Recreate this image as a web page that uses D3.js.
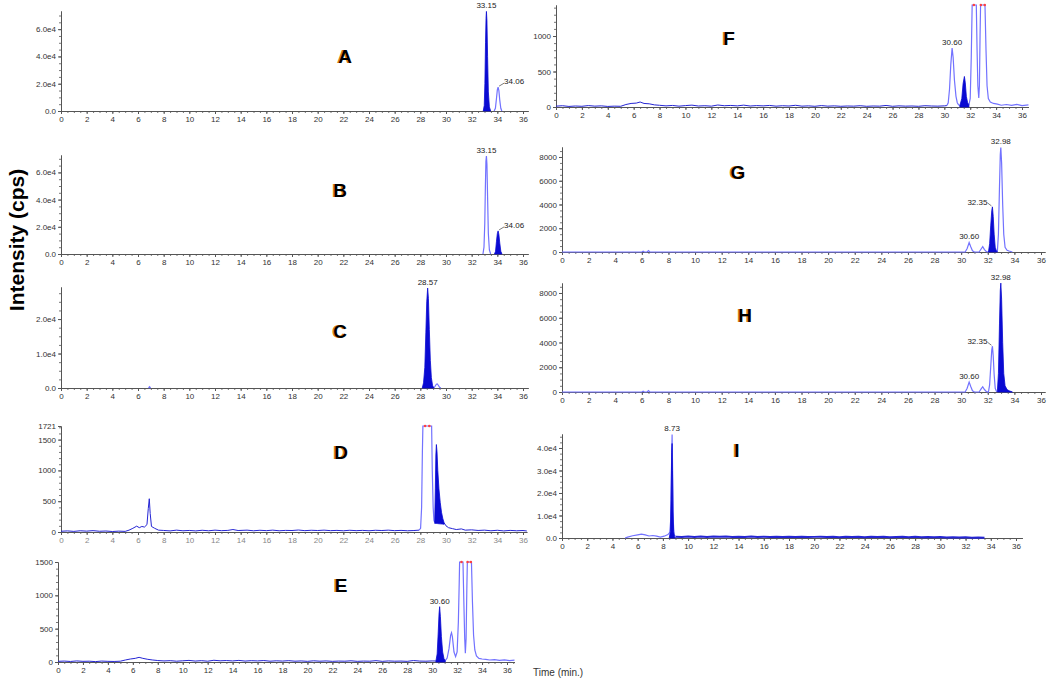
<!DOCTYPE html>
<html>
<head>
<meta charset="utf-8">
<script src="https://cdnjs.cloudflare.com/ajax/libs/d3/7.8.5/d3.min.js"></script>
<style>
  body { margin: 0; background: #fff; }
  svg { display: block; font-family: "Liberation Sans", Arial, sans-serif; }
  .axis path, .axis line { stroke: #555; }
  .axis text { fill: #333; font-size: 8px; font-family: "Liberation Sans", Arial, sans-serif; }
  .minor line { stroke: #777; }
  .peak-label { font-size: 8px; fill: #222; }
  .letter { font-size: 19px; font-weight: bold; text-anchor: middle; }
</style>
</head>
<body>
<script>

// Tick labels shared by every time axis
var timeTicks = [0, 2, 4, 6, 8, 10, 12, 14, 16, 18, 20, 22, 24, 26, 28, 30, 32, 34, 36];

// ---- Panel A ----
var aYTicks = [0, 20000, 40000, 60000];
var aFill = [[32.9, 0], [32.98, 4000], [33.03, 20000], [33.08, 50000], [33.12, 68000], [33.15, 73000], [33.19, 66000], [33.24, 40000], [33.3, 14000], [33.38, 3000], [33.48, 0]];
var aLine = [[33.75, 0], [33.85, 2000], [33.93, 9000], [34.0, 15500], [34.06, 17500], [34.12, 15000], [34.19, 8000], [34.27, 2000], [34.35, 0]];
var aLabels = [["33.15", 33.15, 73000, "top"], ["34.06", 34.06, 17500, "right"]];

// ---- Panel B ----
var bYTicks = [0, 20000, 40000, 60000];
var bLine = [[32.88, 0], [32.96, 5000], [33.02, 22000], [33.07, 50000], [33.11, 68000], [33.15, 72000], [33.19, 66000], [33.24, 42000], [33.3, 15000], [33.38, 3000], [33.48, 0]];
var bFill = [[33.78, 0], [33.86, 2000], [33.93, 9000], [34.0, 15000], [34.06, 17000], [34.12, 14500], [34.19, 8000], [34.27, 2000], [34.36, 0]];
var bLabels = [["33.15", 33.15, 72000, "top"], ["34.06", 34.06, 17000, "right"]];

// ---- Panel C ----
var cYTicks = [0, 10000, 20000];
var cFill = [[28.15, 0], [28.25, 1500], [28.35, 6000], [28.43, 16000], [28.5, 25000], [28.57, 29000], [28.63, 26000], [28.7, 17000], [28.78, 8000], [28.86, 3000], [28.95, 800], [29.05, 0]];
var cLine = [[29.05, 0], [29.15, 500], [29.25, 1100], [29.32, 1200], [29.4, 800], [29.5, 200], [29.6, 0]];
var cBlip = [[6.82, 0], [6.9, 350], [6.98, 0]];
var cLabels = [["28.57", 28.57, 29000, "top"]];

// ---- Panel D ----
var dYTicks = [0, 500, 1000, 1500, 1721];
var dNoise = [[0, 12], [0.5, 18], [1, 10], [1.5, 20], [2, 14], [2.5, 22], [3, 12], [3.5, 16], [4, 8], [4.5, 14], [5, 10], [5.3, 30], [5.6, 60], [5.9, 95], [6.1, 70], [6.3, 90], [6.5, 80], [6.7, 120], [6.8, 380], [6.88, 540], [6.95, 300], [7.05, 90], [7.3, 60], [7.6, 30], [8, 25], [8.5, 18], [9, 30], [9.5, 20], [10, 25], [10.5, 18], [11, 28], [11.5, 20], [12, 30], [12.5, 22], [13, 26], [13.4, 40], [13.8, 24], [14.5, 30], [15, 20], [15.5, 28], [16, 22], [16.5, 30], [17, 20], [17.5, 26], [18, 24], [18.5, 32], [19, 22], [19.5, 28], [20, 24], [20.5, 30], [21, 22], [21.5, 26], [22, 20], [22.5, 28], [23, 22], [23.5, 26], [24, 20], [24.5, 28], [25, 24], [25.5, 30], [26, 22], [26.5, 26], [27, 20], [27.5, 24], [27.9, 30]];
var dLine = [[27.9, 30], [28.02, 60], [28.1, 400], [28.16, 1300], [28.2, 1721], [28.88, 1721], [28.93, 1000], [29.0, 400], [29.06, 190], [29.12, 160]];
var dFill = [[29.12, 160, 140], [29.17, 700, 140], [29.21, 1250, 140], [29.25, 1420, 140], [29.3, 1300, 138], [29.36, 1000, 136], [29.45, 700, 134], [29.55, 480, 132], [29.65, 320, 130], [29.75, 220, 128], [29.85, 150, 126]];
var dTail = [[29.85, 150], [30.0, 100], [30.2, 70], [30.5, 55], [30.8, 40], [31.2, 50], [31.5, 30], [32, 35], [32.5, 25], [33, 30], [33.5, 20], [34, 28], [34.5, 18], [35, 26], [35.5, 20], [36, 24], [36.3, 16]];
var dClip = [28.37, 28.7];

// ---- Panel E ----
var eYTicks = [0, 500, 1000, 1500];
var eNoise = [[0, 10], [0.5, 14], [1, 8], [1.5, 16], [2, 10], [2.5, 12], [3, 6], [3.5, 14], [4, 10], [4.5, 8], [5, 12], [5.4, 30], [5.8, 45], [6.2, 55], [6.5, 70], [6.8, 55], [7.2, 40], [7.6, 30], [8, 22], [8.5, 16], [9, 20], [9.5, 12], [10, 18], [10.5, 24], [11, 14], [11.5, 20], [12, 12], [12.5, 26], [13, 18], [13.5, 22], [14, 16], [14.5, 24], [15, 14], [15.5, 20], [16, 16], [16.5, 22], [17, 12], [17.5, 18], [18, 14], [18.5, 20], [19, 12], [19.5, 16], [20, 10], [20.5, 18], [21, 12], [21.5, 16], [22, 10], [22.5, 14], [23, 12], [23.5, 18], [24, 10], [24.5, 14], [25, 12], [25.5, 20], [26, 10], [26.5, 16], [27, 12], [27.5, 14], [28, 10], [28.5, 22], [29, 14], [29.5, 12], [30, 16], [30.3, 15]];
var eFill = [[30.3, 15], [30.4, 120], [30.48, 420], [30.55, 720], [30.6, 830], [30.66, 680], [30.74, 380], [30.84, 150], [30.95, 50], [31.05, 20]];
var eLine = [[31.05, 20], [31.2, 60], [31.35, 200], [31.48, 400], [31.55, 440], [31.62, 380], [31.75, 150], [31.88, 80], [32.0, 150], [32.1, 600], [32.17, 1200], [32.2, 1500], [32.47, 1500], [32.54, 900], [32.61, 350], [32.66, 130], [32.72, 350], [32.78, 1100], [32.82, 1500], [33.15, 1500], [33.23, 900], [33.32, 400], [33.42, 180], [33.55, 90], [33.75, 55], [34, 45], [34.3, 40], [34.6, 30], [35, 35], [35.4, 25], [35.8, 32], [36.2, 22], [36.6, 28]];
var eClip = [32.35, 32.84, 33.1];
var eLabels = [["30.60", 30.6, 830, "top"]];

// ---- Panel F ----
var fYTicks = [0, 500, 1000];
var fNoise = [[0, 12], [0.5, 18], [1, 8], [1.5, 14], [2, 10], [2.5, 20], [3, 12], [3.5, 16], [4, 8], [4.5, 12], [5, 10], [5.4, 35], [5.8, 50], [6.2, 55], [6.5, 70], [6.8, 50], [7.2, 45], [7.6, 30], [8, 24], [8.5, 16], [9, 22], [9.5, 12], [10, 20], [10.5, 26], [11, 14], [11.5, 18], [12, 12], [12.5, 28], [13, 18], [13.5, 22], [14, 16], [14.5, 26], [15, 14], [15.5, 20], [16, 16], [16.5, 22], [17, 12], [17.5, 18], [18, 14], [18.5, 24], [19, 12], [19.5, 16], [20, 10], [20.5, 20], [21, 12], [21.5, 16], [22, 10], [22.5, 14], [23, 12], [23.5, 18], [24, 10], [24.5, 14], [25, 12], [25.5, 22], [26, 10], [26.5, 16], [27, 12], [27.5, 14], [28, 10], [28.5, 18], [29, 14], [29.5, 12], [30, 16], [30.2, 20]];
var fLine1 = [[30.2, 20], [30.3, 60], [30.4, 250], [30.5, 600], [30.6, 830], [30.68, 700], [30.78, 380], [30.9, 150], [31.0, 60], [31.1, 30], [31.2, 20]];
var fFill = [[31.2, 20], [31.35, 120], [31.45, 330], [31.55, 430], [31.62, 340], [31.7, 150], [31.8, 60], [31.9, 30]];
var fLine2 = [[31.9, 30], [32.0, 120], [32.08, 700], [32.15, 1437], [32.47, 1437], [32.53, 800], [32.59, 300], [32.66, 126], [32.71, 300], [32.76, 1000], [32.8, 1437], [33.14, 1437], [33.22, 800], [33.3, 300], [33.4, 120], [33.55, 70], [33.8, 50], [34.1, 40], [34.4, 25], [34.8, 35], [35.2, 22], [35.6, 38], [36.0, 20], [36.5, 30]];
var fClip = [32.28, 32.82, 33.12];
var fLabels = [["30.60", 30.6, 830, "top"]];

// ---- Panel G ----
var gYTicks = [0, 2000, 4000, 6000, 8000];
var gLine1 = [[0, 0], [6.0, 0], [6.1, 60], [6.2, 0], [6.4, 0], [6.5, 110], [6.6, 0], [30.3, 0], [30.45, 300], [30.6, 800], [30.72, 450], [30.85, 100], [31.0, 0], [31.35, 0], [31.5, 250], [31.62, 450], [31.75, 200], [31.9, 30], [32.05, 0]];
var gFill = [[32.05, 0], [32.14, 700], [32.22, 2200], [32.3, 3500], [32.35, 3800], [32.41, 3000], [32.48, 1500], [32.56, 400], [32.65, 80], [32.72, 30]];
var gLine2 = [[32.72, 30], [32.8, 1500], [32.88, 5500], [32.94, 8200], [32.98, 8800], [33.04, 7500], [33.12, 4000], [33.2, 1500], [33.3, 400], [33.45, 150], [33.6, 80], [33.85, 0]];
var gLabels = [["32.98", 32.98, 8800, "top"], ["32.35", 32.35, 3800, "left"], ["30.60", 30.6, 800, "top"]];

// ---- Panel H ----
var hYTicks = [0, 2000, 4000, 6000, 8000];
var hLine1 = [[0, 0], [6.0, 0], [6.1, 60], [6.2, 0], [6.4, 0], [6.5, 110], [6.6, 0], [30.3, 0], [30.45, 300], [30.6, 800], [30.72, 450], [30.85, 100], [31.0, 0], [31.35, 0], [31.5, 250], [31.62, 420], [31.75, 200], [31.9, 30], [32.05, 0], [32.14, 600], [32.22, 2000], [32.3, 3400], [32.35, 3700], [32.41, 2900], [32.48, 1400], [32.56, 300], [32.65, 60], [32.72, 30]];
var hFill = [[32.72, 30], [32.8, 1500], [32.88, 5500], [32.94, 8200], [32.98, 8800], [33.04, 7500], [33.12, 4000], [33.2, 1500], [33.3, 500], [33.45, 200], [33.6, 100], [33.85, 0]];
var hLabels = [["32.98", 32.98, 8800, "top"], ["32.35", 32.35, 3700, "left"], ["30.60", 30.6, 800, "top"]];

// ---- Panel I ----
var iYTicks = [0, 10000, 20000, 30000, 40000];
var iLine = [[5.0, 0], [5.2, 400], [5.6, 1000], [6.0, 1400], [6.3, 1700], [6.6, 1400], [6.9, 900], [7.2, 1100], [7.5, 800], [7.8, 400], [8.1, 800], [8.4, 1500], [8.55, 2500], [8.62, 8000], [8.68, 30000], [8.73, 46000], [8.77, 30000], [8.82, 8000], [8.88, 1500], [9.0, 600]];
var iFill = [[8.5, 0], [8.6, 3000], [8.65, 17000], [8.7, 38000], [8.73, 42000], [8.76, 30000], [8.8, 12000], [8.85, 3000], [8.92, 500], [9.0, 0]];
var iNoise = [[9.0, 600], [9.5, 500], [10, 700], [10.5, 450], [11, 650], [11.5, 500], [12, 700], [12.5, 550], [13, 650], [13.5, 450], [14, 600], [14.5, 500], [15, 650], [15.5, 450], [16, 600], [16.5, 500], [17, 550], [17.5, 400], [18, 600], [18.5, 450], [19, 550], [19.5, 400], [20, 500], [20.5, 600], [21, 400], [21.5, 550], [22, 350], [22.5, 500], [23, 400], [23.5, 550], [24, 350], [24.5, 500], [25, 400], [25.5, 550], [26, 350], [26.5, 450], [27, 550], [27.5, 350], [28, 500], [28.5, 300], [29, 450], [29.5, 350], [30, 400], [30.5, 250], [31, 350], [31.5, 250], [32, 300], [32.5, 150], [33, 250], [33.5, 100]];
var iLabels = [["8.73", 8.73, 46000, "top"]];

// Colours
var fillBlue = "#0a0ad2";
var lightBlue = "#7272ff";
var noiseBlue = "#2525d4";

function sciFormat(d) { return d === 0 ? "0.0" : (d / 1e4).toFixed(1) + "e4"; }
function plainFormat(d) { return String(d); }

// Panel layout (pixel boxes) plus which series go in each one
var panels = [
  { name: "A", x0: 61, x36: 523, xEnd: 36.4, base: 111, top: 11, yMax: 73300, yTicks: aYTicks, minor: 5000, fmt: sciFormat,
    noise: [], lines: [aLine], fills: [aFill], labels: aLabels, clip: [], letter: [345, 63] },
  { name: "B", x0: 61, x36: 523, xEnd: 36.4, base: 254, top: 155, yMax: 72800, yTicks: bYTicks, minor: 5000, fmt: sciFormat,
    noise: [], lines: [bLine], fills: [bFill], labels: bLabels, clip: [], letter: [340, 197] },
  { name: "C", x0: 61, x36: 523, xEnd: 36.4, base: 388, top: 287, yMax: 29300, yTicks: cYTicks, minor: 2500, fmt: sciFormat,
    noise: [], lines: [cLine, cBlip], fills: [cFill], labels: cLabels, clip: [], letter: [340, 338] },
  { name: "D", x0: 61, x36: 523, xEnd: 36.3, base: 532, top: 426, yMax: 1721, yTicks: dYTicks, minor: 100, fmt: plainFormat,
    noise: [dNoise, dTail], lines: [dLine], fills: [dFill], labels: [], clip: dClip, letter: [341, 459], faintX: true },
  { name: "E", x0: 58, x36: 507, xEnd: 36.6, base: 662, top: 562, yMax: 1500, yTicks: eYTicks, minor: 100, fmt: plainFormat,
    noise: [eNoise], lines: [eLine], fills: [eFill], labels: eLabels, clip: eClip, letter: [341, 592] },
  { name: "F", x0: 556, x36: 1022, xEnd: 36.5, base: 107, top: 5, yMax: 1437, yTicks: fYTicks, minor: 100, fmt: plainFormat,
    noise: [fNoise], lines: [fLine1, fLine2], fills: [fFill], labels: fLabels, clip: fClip, letter: [729, 45] },
  { name: "G", x0: 562, x36: 1041, xEnd: 36.3, base: 252, top: 147, yMax: 8842, yTicks: gYTicks, minor: 500, fmt: plainFormat,
    noise: [], lines: [gLine1, gLine2], fills: [gFill], labels: gLabels, clip: [], letter: [738, 179] },
  { name: "H", x0: 562, x36: 1041, xEnd: 36.3, base: 392, top: 283, yMax: 8808, yTicks: hYTicks, minor: 500, fmt: plainFormat,
    noise: [], lines: [hLine1], fills: [hFill], labels: hLabels, clip: [], letter: [745, 322] },
  { name: "I", x0: 562, x36: 1016, xEnd: 36.5, base: 538, top: 434, yMax: 46222, yTicks: iYTicks, minor: 2500, fmt: sciFormat,
    noise: [iNoise], lines: [iLine], fills: [iFill], labels: iLabels, clip: [], letter: [737, 457], thickNoise: true }
];

var svg = d3.select("body")
  .append("svg")
  .attr("width", 1050)
  .attr("height", 682);

svg.append("rect").attr("width", 1050).attr("height", 682).attr("fill", "#fff");

function drawPanel(p) {
  var x = d3.scaleLinear().domain([0, 36]).range([p.x0, p.x36]);
  var y = d3.scaleLinear().domain([0, p.yMax]).range([p.base, p.top]);
  var g = svg.append("g");

  // Axis scale that runs a little past 36
  var xAxisScale = d3.scaleLinear().domain([0, p.xEnd]).range([p.x0, x(p.xEnd)]);

  // Minor ticks first, then the labelled ones
  g.append("g")
    .attr("class", "axis minor")
    .attr("transform", `translate(0, ${p.base})`)
    .call(d3.axisBottom(xAxisScale).tickValues(d3.range(0, p.xEnd, 0.5)).tickSize(2).tickSizeOuter(0).tickFormat(""));

  var xg = g.append("g")
    .attr("class", "axis")
    .attr("transform", `translate(0, ${p.base})`)
    .call(d3.axisBottom(xAxisScale).tickValues(timeTicks).tickSize(3).tickSizeOuter(0).tickPadding(2));
  if (p.faintX) xg.selectAll("text").style("fill", "#888");

  g.append("g")
    .attr("class", "axis minor")
    .attr("transform", `translate(${p.x0}, 0)`)
    .call(d3.axisLeft(y).tickValues(d3.range(0, p.yMax, p.minor)).tickSize(2).tickSizeOuter(0).tickFormat(""));

  g.append("g")
    .attr("class", "axis")
    .attr("transform", `translate(${p.x0}, 0)`)
    .call(d3.axisLeft(y).tickValues(p.yTicks).tickFormat(p.fmt).tickSize(3).tickSizeOuter(0).tickPadding(2));

  // Line and area generators
  var line = d3.line()
    .x(d => x(d[0]))
    .y(d => y(Math.min(d[1], p.yMax)));

  var area = d3.area()
    .x(d => x(d[0]))
    .y0(d => y(d[2] || 0))
    .y1(d => y(Math.min(d[1], p.yMax)));

  p.noise.forEach(function (s) {
    g.append("path")
      .attr("d", line(s))
      .attr("fill", "none")
      .attr("stroke", noiseBlue)
      .attr("stroke-width", p.thickNoise ? 2 : 1);
  });

  p.lines.forEach(function (s) {
    g.append("path")
      .attr("d", line(s))
      .attr("fill", "none")
      .attr("stroke", lightBlue)
      .attr("stroke-width", 1.2);
  });

  p.fills.forEach(function (s) {
    g.append("path")
      .attr("d", area(s))
      .attr("fill", fillBlue)
      .attr("stroke", fillBlue)
      .attr("stroke-width", 0.8);
  });

  // Red marks where the trace runs off the top
  p.clip.forEach(function (t) {
    g.append("circle")
      .attr("cx", x(t))
      .attr("cy", p.top)
      .attr("r", 1.3)
      .attr("fill", "#ff4040");
  });

  // Peak retention time labels
  p.labels.forEach(function (l) {
    var px = x(l[1]);
    var py = y(Math.min(l[2], p.yMax));
    if (l[3] === "top") {
      g.append("text").attr("class", "peak-label")
        .attr("x", px).attr("y", py - 3)
        .attr("text-anchor", "middle")
        .text(l[0]);
    } else if (l[3] === "right") {
      g.append("path").attr("d", `M${px + 1},${py - 1}L${px + 6},${py - 4}`)
        .attr("stroke", "#444").attr("stroke-width", 0.7).attr("fill", "none");
      g.append("text").attr("class", "peak-label")
        .attr("x", px + 6).attr("y", py - 3)
        .text(l[0]);
    } else {
      g.append("path").attr("d", `M${px - 5},${py - 4}L${px - 1},${py - 1}`)
        .attr("stroke", "#444").attr("stroke-width", 0.7).attr("fill", "none");
      g.append("text").attr("class", "peak-label")
        .attr("x", px - 5).attr("y", py - 2)
        .attr("text-anchor", "end")
        .text(l[0]);
    }
  });

  // Panel letter with its orange edge
  g.append("text").attr("class", "letter")
    .attr("x", p.letter[0] - 1.5).attr("y", p.letter[1])
    .attr("fill", "#d8801a")
    .text(p.name);
  g.append("text").attr("class", "letter")
    .attr("x", p.letter[0]).attr("y", p.letter[1])
    .attr("fill", "#000")
    .text(p.name);
}

panels.forEach(drawPanel);

// Axis titles
svg.append("text")
  .attr("transform", "translate(24, 240) rotate(-90)")
  .attr("text-anchor", "middle")
  .style("font-size", "21px")
  .style("font-weight", "bold")
  .text("Intensity (cps)");

svg.append("text")
  .attr("x", 533)
  .attr("y", 676)
  .style("font-size", "10px")
  .style("fill", "#333")
  .text("Time (min.)");

</script>
</body>
</html>
